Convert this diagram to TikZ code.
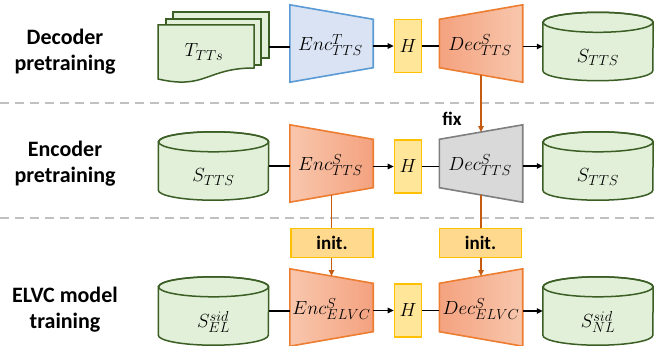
\documentclass[tikz,border=0pt]{standalone}
\usepackage[no-math]{fontspec}
\setmainfont{Carlito}
\usetikzlibrary{calc,arrows.meta}
% scalable math italic so that every requested size is used as is
\DeclareFontShape{OML}{cmm}{m}{it}{<-9>cmmi8<9-11>cmmi10<11->cmmi12}{\skewchar\font'177}
\DeclareMathSizes{19}{19}{14.5}{10}

\definecolor{docfill}{HTML}{E2F0D9}
\definecolor{docline}{HTML}{3B5E25}
\definecolor{bluefill}{HTML}{DAE3F3}
\definecolor{blueline}{HTML}{5B9BD5}
\definecolor{orgdark}{HTML}{F4A27F}
\definecolor{orglight}{HTML}{F8C7AD}
\definecolor{orgline}{HTML}{ED7D31}
\definecolor{hfill}{HTML}{FFE699}
\definecolor{yline}{HTML}{FFC000}
\definecolor{initfill}{HTML}{FFD98E}
\definecolor{grayfill}{HTML}{D9D9D9}
\definecolor{grayline}{HTML}{7F7F7F}
\definecolor{linkorange}{HTML}{C55A11}
\definecolor{sepgray}{HTML}{C0C0C0}

% database cylinder: name, x, y, label
\newcommand\dbcyl[4]{%
  \node[cylspace] (#1) at (#2,#3) {};
  \filldraw[cylline] ($(#1.north west)+(0,10)$) -- ($(#1.south west)+(0,-10)$)
     arc[start angle=180,end angle=360,x radius=55pt,y radius=10pt]
     -- ($(#1.north east)+(0,10)$)
     arc[start angle=0,end angle=180,x radius=55pt,y radius=10pt] -- cycle;
  \draw[cylline, fill=none] ($(#1.north)+(0,10)$) ellipse[x radius=55pt,y radius=10pt];
  \node (#1txt) at ($(#1.center)+(0,11)$) {#4};}

\begin{document}
\begin{tikzpicture}[x=1pt,y=-1pt,
  every node/.style={font=\fontsize{19}{22.8}\selectfont, inner sep=0pt},
  phase/.style={font=\fontsize{22}{26}\selectfont\bfseries, align=center},
  tag/.style={font=\fontsize{19}{22}\selectfont\bfseries},
  trapspace/.style={minimum width=83pt, minimum height=77pt},
  hbox/.style={draw=yline, fill=hfill, line width=1.6pt, minimum width=27pt, minimum height=53pt},
  initbox/.style={draw=yline, fill=initfill, line width=1.6pt, minimum width=82pt, minimum height=29pt, tag},
  cylspace/.style={minimum width=110pt, minimum height=68pt},
  cylline/.style={draw=docline, fill=docfill, line width=1.5pt},
  trapline/.style={line width=1.6pt, line join=miter},
  flow/.style={line width=1.4pt, black},
  flowarrow/.style={flow, -{Triangle[length=6pt,width=5.5pt]}},
  weight/.style={line width=1.4pt, linkorange},
  weightarrow/.style={weight, -{Triangle[length=6pt,width=5.5pt]}},
  sepline/.style={line width=2pt, sepgray, dash pattern=on 9pt off 6pt},
]
\useasboundingbox (0,0) rectangle (655,345);

% phase separators
\draw[sepline] (0,102.5) -- (655,102.5);
\draw[sepline] (0,218) -- (655,218);

% phase titles
\node[phase] (ph1) at (65,52) {Decoder\\pretraining};
\node[phase] (ph2) at (65,163.5) {Encoder\\pretraining};
\node[phase] (ph3) at (65,310) {ELVC model\\training};

% ---------- decoder pretraining ----------
\node[minimum width=111pt, minimum height=70pt] (tts) at (213.5,47) {};
\filldraw[cylline] (173,12) rectangle (269,58);
\filldraw[cylline] (166,19) rectangle (261,65);
\filldraw[cylline] (158,25) -- (254,25) -- (254,68)
   .. controls (206,68) and (206,90) .. (158,79) -- cycle;
\node (ttstxt) at (204,52) {$T_{TTs}$};

\node[trapspace] (enc1) at (331.5,43.5) {};
\path[trapline, draw=blueline, fill=bluefill] (enc1.north west) -- ($(enc1.north east)+(0,14.5)$)
   -- ($(enc1.south east)-(0,14.5)$) -- (enc1.south west) -- cycle;
\node (enc1txt) at ($(enc1)+(-1,1.5)$) {$Enc^{T}_{TTS}$};

\node[hbox] (h1) at (408,46) {$H$};

\node[trapspace] (dec1) at (481,43.5) {};
\path[trapline, draw=orgline, left color=orgdark, right color=orglight]
   ($(dec1.north west)+(0,14.5)$) -- (dec1.north east) -- (dec1.south east)
   -- ($(dec1.south west)-(0,14.5)$) -- cycle;
\node (dec1txt) at ($(dec1)+(-1,1.5)$) {$Dec^{S}_{TTS}$};

\dbcyl{s1}{598}{46.5}{$S_{TTS}$}

\draw[flow] (tts.east) -- (tts.east -| enc1.west);
\draw[flowarrow] (enc1.east |- h1.west) -- (h1.west);
\draw[flow] (h1.east) -- (h1.east -| dec1.west);
\draw[flowarrow] (dec1.east |- s1.west) -- (s1.west);

% ---------- encoder pretraining ----------
\dbcyl{s2}{213.5}{166}{$S_{TTS}$}

\node[trapspace] (enc2) at (331.5,163.5) {};
\path[trapline, draw=orgline, left color=orglight, right color=orgdark]
   (enc2.north west) -- ($(enc2.north east)+(0,14.5)$)
   -- ($(enc2.south east)-(0,14.5)$) -- (enc2.south west) -- cycle;
\node (enc2txt) at ($(enc2)+(-1,1.5)$) {$Enc^{S}_{TTS}$};

\node[hbox] (h2) at (408,166.5) {$H$};

\node[trapspace] (dec2) at (481,163.5) {};
\path[trapline, draw=grayline, fill=grayfill]
   ($(dec2.north west)+(0,14.5)$) -- (dec2.north east) -- (dec2.south east)
   -- ($(dec2.south west)-(0,14.5)$) -- cycle;
\node (dec2txt) at ($(dec2)+(-1,1.5)$) {$Dec^{S}_{TTS}$};

\dbcyl{s3}{598}{166}{$S_{TTS}$}

\draw[flow] (s2.east) -- (s2.east -| enc2.west);
\draw[flowarrow] (enc2.east |- h2.west) -- (h2.west);
\draw[flow] (h2.east) -- (h2.east -| dec2.west);
\draw[flowarrow] (dec2.east |- s3.west) -- (s3.west);

% ---------- ELVC model training ----------
\dbcyl{s4}{213.5}{311}{$S^{sid}_{EL}$}

\node[trapspace] (enc3) at (331.5,307.5) {};
\path[trapline, draw=orgline, left color=orglight, right color=orgdark]
   (enc3.north west) -- ($(enc3.north east)+(0,14.5)$)
   -- ($(enc3.south east)-(0,14.5)$) -- (enc3.south west) -- cycle;
\node (enc3txt) at ($(enc3)+(0,1.5)$) {$Enc^{S}_{ELVC}$};

\node[hbox] (h3) at (408,310.5) {$H$};

\node[trapspace] (dec3) at (481,307.5) {};
\path[trapline, draw=orgline, left color=orgdark, right color=orglight]
   ($(dec3.north west)+(0,14.5)$) -- (dec3.north east) -- (dec3.south east)
   -- ($(dec3.south west)-(0,14.5)$) -- cycle;
\node (dec3txt) at ($(dec3)+(0,1.5)$) {$Dec^{S}_{ELVC}$};

\dbcyl{s5}{598}{311}{$S^{sid}_{NL}$}

\draw[flow] (s4.east) -- (s4.east -| enc3.west);
\draw[flowarrow] (enc3.east |- h3.west) -- (h3.west);
\draw[flow] (h3.east) -- (h3.east -| dec3.west);
\draw[flowarrow] (dec3.east |- s5.west) -- (s5.west);

% ---------- weight transfer ----------
\node[initbox] (init1) at (332,243) {init.};
\node[initbox] (init2) at (480.5,243) {init.};
\node[tag] (fix) at (452,119) {fix};

\coordinate (dec1bot) at ($(dec1.south)+(0,-7.25)$);
\coordinate (dec2top) at ($(dec2.north)+(0,7.25)$);
\coordinate (dec2bot) at ($(dec2.south)+(0,-7.25)$);
\coordinate (dec3top) at ($(dec3.north)+(0,7.25)$);
\coordinate (enc2bot) at ($(enc2.south)+(0,-7.25)$);
\coordinate (enc3top) at ($(enc3.north)+(0,7.25)$);

\draw[weightarrow] (dec1bot) -- (dec2top);
\draw[weight] (dec2bot) -- (dec2bot |- init2.north);
\draw[weightarrow] (init2.south -| dec3top) -- (dec3top);
\draw[weight] (enc2bot) -- (enc2bot |- init1.north);
\draw[weightarrow] (init1.south -| enc3top) -- (enc3top);
\end{tikzpicture}
\end{document}
